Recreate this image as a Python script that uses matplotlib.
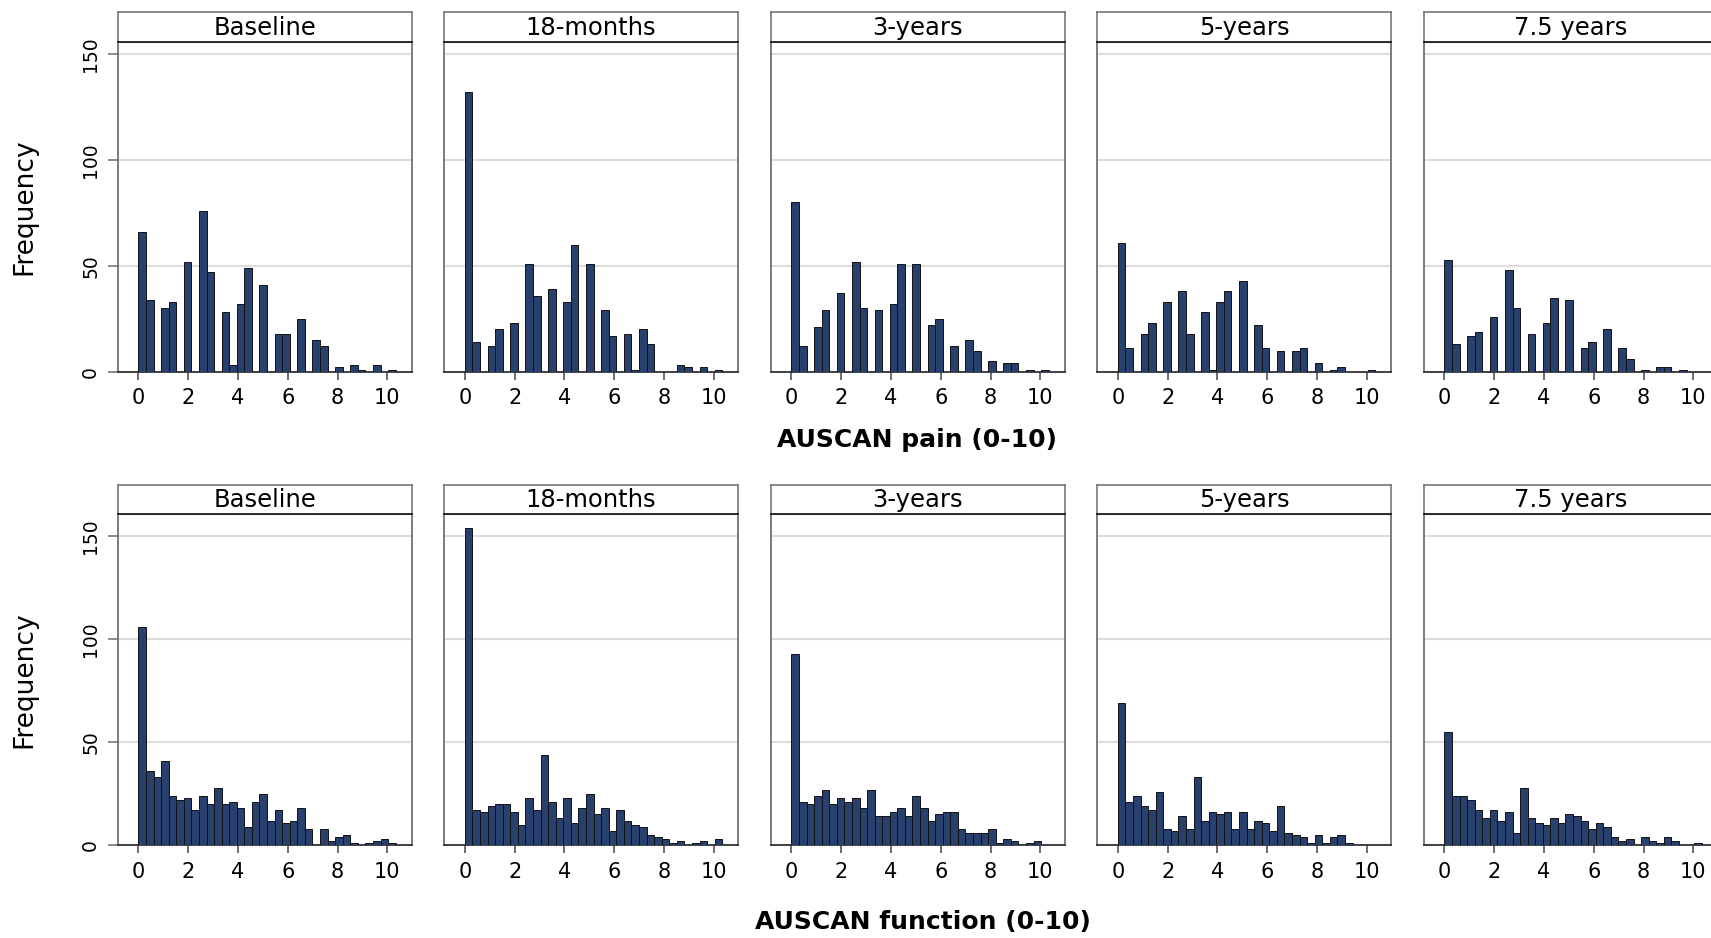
import numpy as np
import matplotlib
matplotlib.use("Agg")
import matplotlib.pyplot as plt

# panel titles (time points)
waves = ["Baseline", "18-months", "3-years", "5-years", "7.5 years"]

# histogram bins: 34 bins of width ~0.304 starting at 0
n_bins = 34
bin_w = 0.304

# AUSCAN pain counts per bin
pain_baseline = [66, 34, 0, 30, 33, 0, 52, 0, 76, 47, 0, 28, 3, 32, 49, 0, 41, 0,
                 18, 18, 0, 25, 0, 15, 12, 0, 2, 0, 3, 1, 0, 3, 0, 1]
pain_18m = [132, 14, 0, 12, 20, 0, 23, 0, 51, 36, 0, 39, 0, 33, 60, 0, 51, 0,
            29, 17, 0, 18, 1, 20, 13, 0, 0, 0, 3, 2, 0, 2, 0, 1]
pain_3y = [80, 12, 0, 21, 29, 0, 37, 0, 52, 30, 0, 29, 0, 32, 51, 0, 51, 0,
           22, 25, 0, 12, 0, 15, 10, 0, 5, 0, 4, 4, 0, 1, 0, 1]
pain_5y = [61, 11, 0, 18, 23, 0, 33, 0, 38, 18, 0, 28, 1, 33, 38, 0, 43, 0,
           22, 11, 0, 10, 0, 10, 11, 0, 4, 0, 1, 2, 0, 0, 0, 1]
pain_75y = [53, 13, 0, 17, 19, 0, 26, 0, 48, 30, 0, 18, 0, 23, 35, 0, 34, 0,
            11, 14, 0, 20, 0, 11, 6, 0, 1, 0, 2, 2, 0, 1, 0, 0]

# AUSCAN function counts per bin
func_baseline = [106, 36, 33, 41, 24, 22, 23, 17, 24, 20, 28, 20, 21, 18, 9, 21, 25, 12,
                 17, 11, 12, 18, 8, 0, 8, 2, 4, 5, 1, 0, 1, 2, 3, 1]
func_18m = [154, 17, 16, 19, 20, 20, 16, 10, 23, 17, 44, 21, 13, 23, 11, 18, 25, 15,
            18, 7, 17, 12, 10, 9, 5, 4, 3, 1, 2, 0, 1, 2, 0, 3]
func_3y = [93, 21, 20, 24, 27, 20, 23, 21, 23, 18, 27, 14, 14, 16, 18, 14, 24, 18,
           12, 15, 16, 16, 8, 6, 6, 6, 8, 1, 3, 2, 0, 1, 2, 0]
func_5y = [69, 21, 24, 19, 17, 26, 8, 7, 14, 8, 33, 12, 16, 15, 16, 8, 16, 8,
           12, 11, 7, 19, 6, 5, 4, 1, 5, 1, 4, 5, 1, 0, 0, 0]
func_75y = [55, 24, 24, 22, 17, 13, 17, 12, 16, 6, 28, 13, 11, 10, 13, 11, 15, 14,
            12, 8, 11, 9, 4, 2, 3, 0, 4, 2, 1, 4, 2, 0, 0, 1]

pain = [pain_baseline, pain_18m, pain_3y, pain_5y, pain_75y]
func = [func_baseline, func_18m, func_3y, func_5y, func_75y]

x_ticks = [0, 2, 4, 6, 8, 10]
y_ticks = [0, 50, 100, 150]

bar_col = "#27406e"
W, H = 1711, 938

fig = plt.figure(figsize=(W / 100, H / 100), dpi=100)

# row layout in pixels: (axis bottom, axis top, strip top, ylim top)
rows = [
    (371.7, 41.7, 11.7, 156.0, pain),
    (845.3, 514.0, 485.0, 160.7, func),
]
panel_w = 294.0


def px_box(left, top, bottom):
    return [left / W, 1 - bottom / H, panel_w / W, (bottom - top) / H]


for r, (ybot, ytop, stop, ymax, data) in enumerate(rows):
    for i, name in enumerate(waves):
        left = 117.5 + 326.5 * i
        ax = fig.add_axes(px_box(left, ytop, ybot))
        edges = np.arange(n_bins) * bin_w
        ax.bar(edges, data[i], width=bin_w, align="edge", color=bar_col,
               edgecolor="#111111", linewidth=0.7, zorder=3)
        ax.set_xlim(-0.84, 10.97)
        ax.set_ylim(0, ymax)
        ax.set_xticks(x_ticks)
        ax.set_xticklabels([str(t) for t in x_ticks], fontsize=15)
        ax.set_yticks(y_ticks)
        ax.yaxis.grid(True, color="#dcdcdc", linewidth=1.5, zorder=0)
        ax.set_axisbelow(True)
        ax.tick_params(axis="x", length=6, width=1.2, color="#555555", pad=6)
        if i == 0:
            ax.set_yticklabels([str(t) for t in y_ticks], rotation=90, va="center",
                               fontsize=13.5)
            ax.tick_params(axis="y", length=7.5, width=1.2, color="#777777", pad=5)
        else:
            ax.set_yticklabels([])
            ax.tick_params(axis="y", length=0)
        for s in ["left", "right", "top"]:
            ax.spines[s].set_color("#666666")
            ax.spines[s].set_linewidth(1.2)
        ax.spines["bottom"].set_color("#333333")
        ax.spines["bottom"].set_linewidth(1.3)

        # strip with the panel title
        sx = fig.add_axes(px_box(left, stop, ytop))
        sx.set_xticks([])
        sx.set_yticks([])
        for s in ["left", "right", "top"]:
            sx.spines[s].set_color("#777777")
            sx.spines[s].set_linewidth(1.2)
        sx.spines["bottom"].set_color("#111111")
        sx.spines["bottom"].set_linewidth(1.2)
        sx.text(0.5, 0.47, name, ha="center", va="center", fontsize=17.5,
                transform=sx.transAxes)

    # y title for the row
    fig.text(24 / W, 1 - (ybot + ytop) / 2 / H, "Frequency", rotation=90,
             ha="center", va="center", fontsize=19)

fig.text(917 / W, 1 - 440 / H, "AUSCAN pain (0-10)", ha="center", va="center",
         fontsize=18, fontweight="bold")
fig.text(923 / W, 1 - 922 / H, "AUSCAN function (0-10)", ha="center", va="center",
         fontsize=18, fontweight="bold")

fig.savefig("out.png", dpi=100)
